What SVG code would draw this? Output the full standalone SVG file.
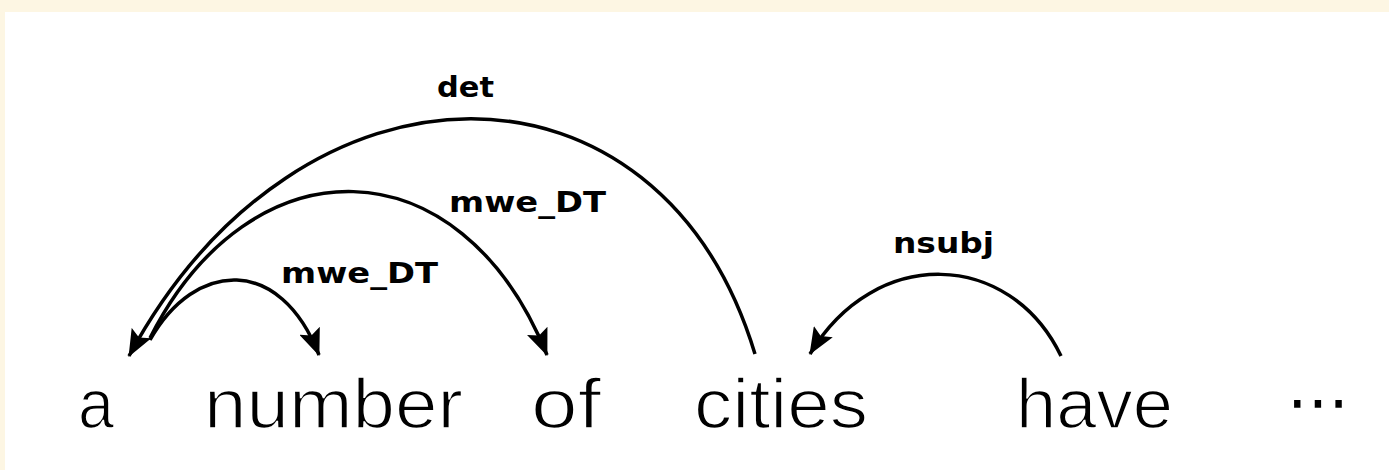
<svg xmlns="http://www.w3.org/2000/svg" width="1389" height="470" viewBox="0 0 1389 470">
  <style>
    .word { font-family: "Liberation Sans", Arial, sans-serif; font-size: 70px; fill: #000; stroke: #fff; stroke-width: 1.6px; }
    .dots { font-family: "DejaVu Sans", sans-serif; font-size: 62px; fill: #000; }
    .lbl { font-family: "DejaVu Sans", Verdana, sans-serif; font-weight: bold; font-size: 28px; fill: #000; }
    .arc { fill: none; stroke: #000; stroke-width: 3.5; }
  </style>
  <defs>
    <marker id="ah" markerUnits="userSpaceOnUse" viewBox="0 0 27 22" markerWidth="27" markerHeight="22" refX="26" refY="11" orient="auto">
      <path d="M0,0 L27,11 L0,22 L5,11 z" fill="#000"/>
    </marker>
  </defs>
  <rect x="0" y="0" width="1389" height="470" fill="#fdf6e3"/>
  <rect x="5" y="12" width="1384" height="458" fill="#ffffff"/>

  <g id="connectors">
    <g id="e-det">
      <path class="arc" d="M755,354 C660,40 300,40 129,356" marker-end="url(#ah)"/>
      <text class="lbl" x="437" y="97" textLength="57" lengthAdjust="spacingAndGlyphs">det</text>
    </g>
    <g id="e-mwe1">
      <path class="arc" d="M150,338 C250,140 460,140 547,355" marker-end="url(#ah)"/>
      <text class="lbl" x="449" y="212" textLength="157" lengthAdjust="spacingAndGlyphs">mwe_DT</text>
    </g>
    <g id="e-mwe2">
      <path class="arc" d="M150,340 C195,260 280,255 319,355" marker-end="url(#ah)"/>
      <text class="lbl" x="281" y="283" textLength="157" lengthAdjust="spacingAndGlyphs">mwe_DT</text>
    </g>
    <g id="e-nsubj">
      <path class="arc" d="M1061,356 C1010,250 875,245 810,354" marker-end="url(#ah)"/>
      <text class="lbl" x="893" y="253" textLength="101" lengthAdjust="spacingAndGlyphs">nsubj</text>
    </g>
  </g>

  <g id="n-a"><text class="word" x="78" y="428" textLength="36" lengthAdjust="spacingAndGlyphs">a</text></g>
  <g id="n-number"><text class="word" x="204" y="428" textLength="259" lengthAdjust="spacingAndGlyphs">number</text></g>
  <g id="n-of"><text class="word" x="531" y="428" textLength="70" lengthAdjust="spacingAndGlyphs">of</text></g>
  <g id="n-cities"><text class="word" x="694" y="428" textLength="174" lengthAdjust="spacingAndGlyphs">cities</text></g>
  <g id="n-have"><text class="word" x="1016" y="428" textLength="157" lengthAdjust="spacingAndGlyphs">have</text></g>
  <g id="n-ellipsis"><text class="dots" x="1318" y="423" text-anchor="middle">⋯</text></g>
</svg>
